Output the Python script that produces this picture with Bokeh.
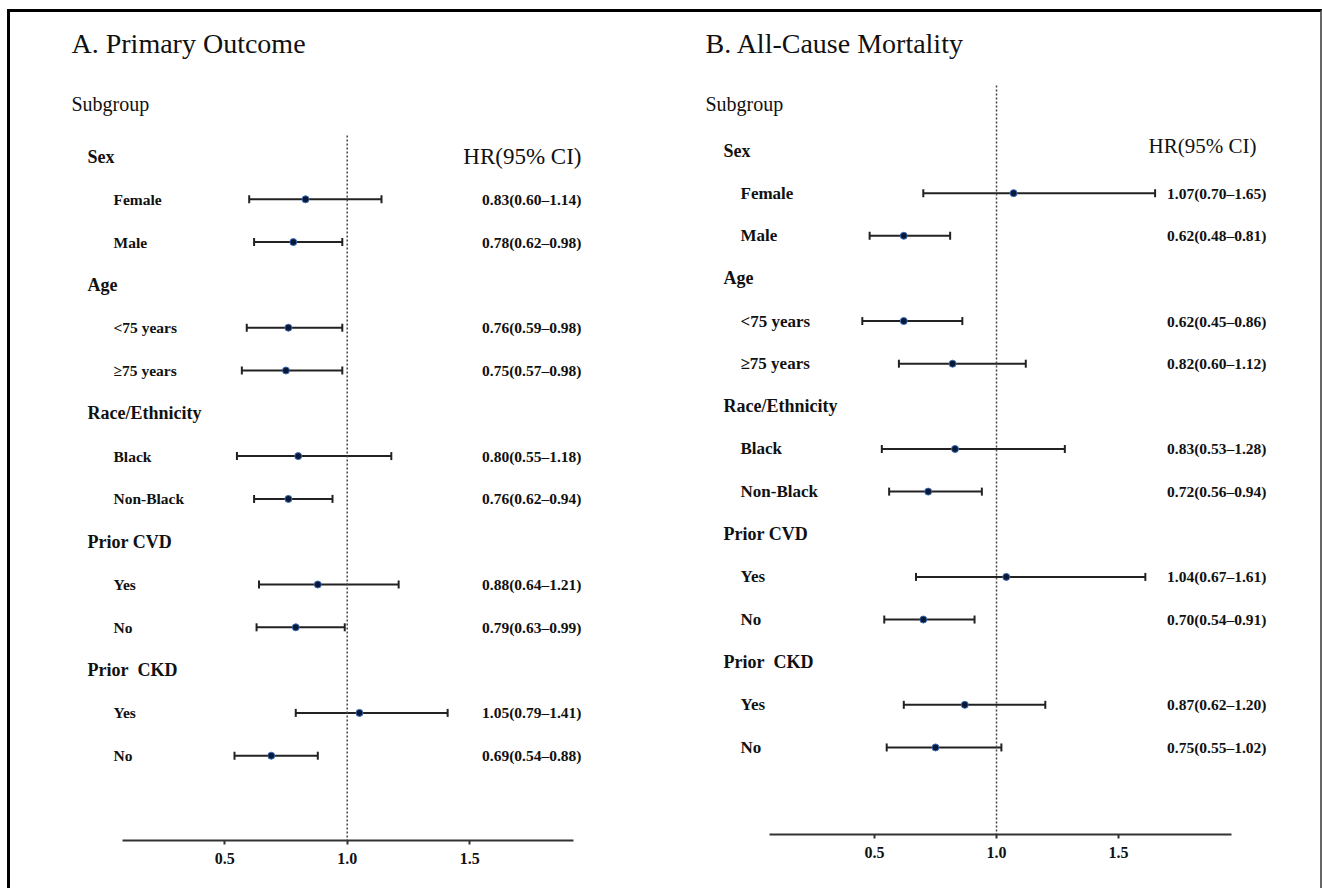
from bokeh.plotting import figure
from bokeh.models import Range1d, FixedTicker, Whisker, TeeHead, ColumnDataSource, Row
from bokeh.core.properties import value
from bokeh.embed import file_html
from bokeh.resources import INLINE

SERIF = "Liberation Serif"

# ---------------- data ----------------
groups = ["Sex", "Age", "Race/Ethnicity", "Prior CVD", "Prior\u00a0 CKD"]
subgroups = [["Female", "Male"], ["<75 years", "\u226575 years"], ["Black", "Non-Black"],
             ["Yes", "No"], ["Yes", "No"]]

a_hr = [0.83, 0.78, 0.76, 0.75, 0.80, 0.76, 0.88, 0.79, 1.05, 0.69]
a_lo = [0.60, 0.62, 0.59, 0.57, 0.55, 0.62, 0.64, 0.63, 0.79, 0.54]
a_hi = [1.14, 0.98, 0.98, 0.98, 1.18, 0.94, 1.21, 0.99, 1.41, 0.88]

b_hr = [1.07, 0.62, 0.62, 0.82, 0.83, 0.72, 1.04, 0.70, 0.87, 0.75]
b_lo = [0.70, 0.48, 0.45, 0.60, 0.53, 0.56, 0.67, 0.54, 0.62, 0.55]
b_hi = [1.65, 0.81, 0.86, 1.12, 1.28, 0.94, 1.61, 0.91, 1.20, 1.02]

tick_values = [0.5, 1.0, 1.5]
tick_labels = ["0.5", "1.0", "1.5"]
null_hr = 1.0

titles = ["A. Primary Outcome", "B. All-Cause Mortality"]

FIG_H = 876
TOP = 12  # page y of figure top (9px margin + 3px border)


def make_panel(title, hr, lo, hi, c):
    ppu, one_px, x0, w = c["ppu"], c["one_px"], c["x0"], c["w"]
    row0, step, bottom = c["row0"], c["step"], c["bottom"]

    def X(px):
        return 1 + (px - one_px) / ppu

    def R(py):
        return (py - row0) / step

    r_top, r_bot = R(TOP), R(bottom)
    p = figure(width=w, height=FIG_H, output_backend="svg", toolbar_location=None,
               x_range=Range1d(X(x0), X(x0 + w)), y_range=Range1d(r_bot, r_top),
               y_axis_location=None, min_border_left=0, min_border_right=0,
               min_border_top=0, min_border_bottom=FIG_H - (bottom - TOP))
    p.frame_align = False
    p.grid.visible = False
    p.outline_line_color = None
    p.background_fill_color = "white"
    p.border_fill_color = "white"

    ax = p.xaxis[0]
    ax.ticker = FixedTicker(ticks=tick_values)
    ax.major_label_overrides = {v: l for v, l in zip(tick_values, tick_labels)}
    ax.bounds = c["bounds"]
    ax.axis_line_width = 2
    ax.axis_line_color = "#333333"
    ax.major_tick_line_width = 2
    ax.major_tick_line_color = "#333333"
    ax.major_tick_out = 4
    ax.major_tick_in = 0
    ax.minor_tick_out = 0
    ax.minor_tick_in = 0
    ax.major_label_standoff = 8
    ax.major_label_text_font = SERIF
    ax.major_label_text_font_size = "16px"
    ax.major_label_text_font_style = "bold"
    ax.major_label_text_color = "#111111"

    # row positions
    head_rows, item_rows, item_names = [], [], []
    for g, subs in enumerate(subgroups):
        head_rows.append(3 * g)
        for k, s in enumerate(subs):
            item_rows.append(3 * g + 1 + k)
            item_names.append(s)

    # reference line
    p.segment(x0=[null_hr], y0=[R(c["dot_top"])], x1=[null_hr], y1=[r_bot],
              line_dash="2 2", line_color="#444444", line_width=1.5)

    src = ColumnDataSource(dict(
        y=item_rows, hr=hr, lo=lo, hi=hi,
        lab=["%.2f(%.2f\u2013%.2f)" % (h, l, u) for h, l, u in zip(hr, lo, hi)],
        name=item_names,
    ))
    wk = Whisker(source=src, base="y", lower="lo", upper="hi", dimension="width",
                 line_width=2, line_color="#222222",
                 upper_head=TeeHead(size=8, line_width=2, line_color="#222222"),
                 lower_head=TeeHead(size=8, line_width=2, line_color="#222222"))
    p.add_layout(wk)
    p.scatter("hr", "y", source=src, size=7, fill_color="#0a1838",
              line_color="#3d6db5", line_width=1)

    # texts
    p.text(x=[X(c["title_px"])], y=[R(43)], text=[title], text_font=value(SERIF),
           text_font_size="28px", text_baseline="middle", text_color="#111111")
    p.text(x=[X(c["title_px"])], y=[R(103)], text=["Subgroup"], text_font=value(SERIF),
           text_font_size="20px", text_baseline="middle", text_color="#111111")
    p.text(x=[X(c["head_px"])] * len(groups), y=head_rows, text=groups,
           text_font=value(SERIF), text_font_size="18px", text_font_style="bold",
           text_baseline="middle", text_color="#111111")
    p.text(x=X(c["item_px"]), y="y", text="name", source=src,
           text_font=value(SERIF), text_font_size=c["item_fs"], text_font_style="bold",
           text_baseline="middle", text_color="#111111")
    p.text(x=X(c["val_px"]), y="y", text="lab", source=src,
           text_font=value(SERIF), text_font_size="15.5px", text_font_style="bold",
           text_baseline="middle", text_align="right", text_color="#111111")
    p.text(x=[X(c["hrh_px"])], y=[R(c["hrh_py"])], text=["HR(95% CI)"],
           text_font=value(SERIF), text_font_size=c["hrh_fs"], text_align="right",
           text_baseline="middle", text_color="#111111")
    return p


cfg_a = dict(ppu=245.0, one_px=346.7, x0=10, w=655, row0=156.0, step=42.8, bottom=840,
             bounds=(0.083, 1.925), dot_top=135, title_px=71, head_px=87, item_px=113,
             item_fs="15.5px", val_px=581, hrh_px=581, hrh_py=156, hrh_fs="23px")
cfg_b = dict(ppu=244.0, one_px=996.0, x0=665, w=655, row0=150.0, step=42.64, bottom=834,
             bounds=(0.07, 1.962), dot_top=85, title_px=705, head_px=723, item_px=740,
             item_fs="17px", val_px=1266, hrh_px=1256, hrh_py=145, hrh_fs="21px")

pa = make_panel(titles[0], a_hr, a_lo, a_hi, cfg_a)
pb = make_panel(titles[1], b_hr, b_lo, b_hi, cfg_b)

layout = Row(children=[pa, pb], spacing=0,
             styles={"margin-left": "7px", "margin-top": "9px",
                     "border-top": "3px solid #000000", "border-left": "3px solid #000000",
                     "border-right": "2px solid #666666"})

open("out.html", "w").write(file_html(layout, INLINE))
